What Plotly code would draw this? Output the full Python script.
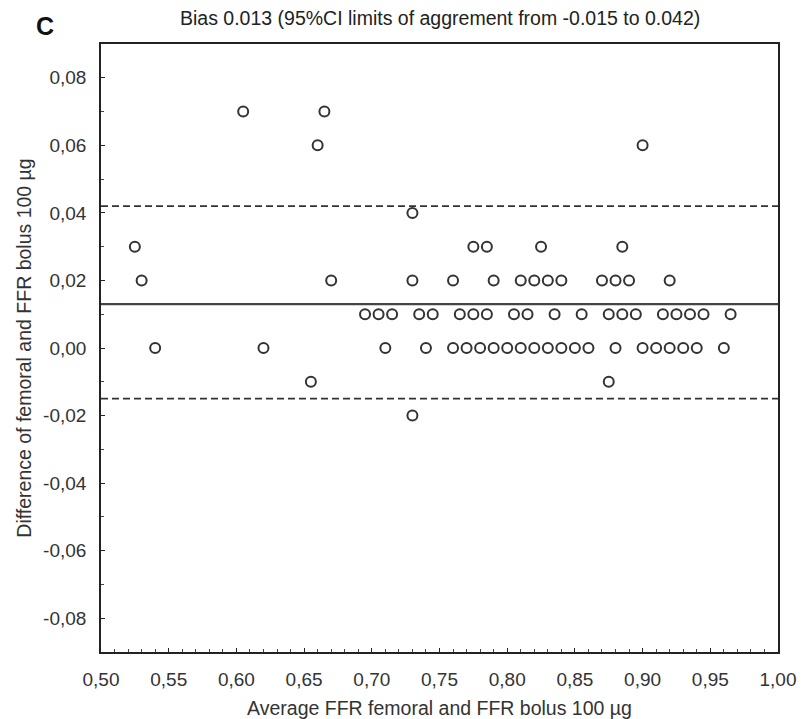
import plotly.graph_objects as go

# Average FFR (femoral / bolus 100 µg) and their difference, per lesion
avg_ffr = [
    0.525, 0.53, 0.54, 0.605, 0.62, 0.655, 0.66, 0.665, 0.67,
    0.73, 0.73, 0.73, 0.90, 0.875,
    # difference 0.03
    0.775, 0.785, 0.825, 0.885,
    # difference 0.02
    0.76, 0.79, 0.81, 0.82, 0.83, 0.84, 0.87, 0.88, 0.89, 0.92,
    # difference 0.01
    0.695, 0.705, 0.715, 0.735, 0.745, 0.765, 0.775, 0.785, 0.805, 0.815,
    0.835, 0.855, 0.875, 0.885, 0.895, 0.915, 0.925, 0.935, 0.945, 0.965,
    # difference 0.00
    0.71, 0.74, 0.76, 0.77, 0.78, 0.79, 0.80, 0.81, 0.82, 0.83, 0.84,
    0.85, 0.86, 0.88, 0.90, 0.91, 0.92, 0.93, 0.94, 0.96,
]
diff_ffr = [
    0.03, 0.02, 0.00, 0.07, 0.00, -0.01, 0.06, 0.07, 0.02,
    0.04, 0.02, -0.02, 0.06, -0.01,
    0.03, 0.03, 0.03, 0.03,
    0.02, 0.02, 0.02, 0.02, 0.02, 0.02, 0.02, 0.02, 0.02, 0.02,
    0.01, 0.01, 0.01, 0.01, 0.01, 0.01, 0.01, 0.01, 0.01, 0.01,
    0.01, 0.01, 0.01, 0.01, 0.01, 0.01, 0.01, 0.01, 0.01, 0.01,
    0.00, 0.00, 0.00, 0.00, 0.00, 0.00, 0.00, 0.00, 0.00, 0.00, 0.00,
    0.00, 0.00, 0.00, 0.00, 0.00, 0.00, 0.00, 0.00, 0.00,
]

bias = 0.013
loa_low = -0.015
loa_high = 0.042

x_range = [0.50, 1.00]
y_range = [-0.09, 0.09]

x_tickvals = [0.50, 0.55, 0.60, 0.65, 0.70, 0.75, 0.80, 0.85, 0.90, 0.95, 1.00]
x_ticktext = ["0,50", "0,55", "0,60", "0,65", "0,70", "0,75",
              "0,80", "0,85", "0,90", "0,95", "1,00"]
y_tickvals = [-0.08, -0.06, -0.04, -0.02, 0.00, 0.02, 0.04, 0.06, 0.08]
y_ticktext = ["-0,08", "-0,06", "-0,04", "-0,02", "0,00",
              "0,02", "0,04", "0,06", "0,08"]

fig = go.Figure()

fig.add_trace(go.Scatter(
    x=avg_ffr, y=diff_ffr, mode="markers",
    marker=dict(symbol="circle-open", size=10, color="#333333",
                line=dict(width=2, color="#333333")),
    showlegend=False, hoverinfo="x+y",
))

# Bias and limits of agreement
fig.add_hline(y=bias, line=dict(color="#444444", width=2.2))
for lim in (loa_low, loa_high):
    fig.add_hline(y=lim, line=dict(color="#333333", width=1.8, dash="7px,4px"))

font_family = "Liberation Sans, Arial, sans-serif"
text_color = "#333333"
tick_size = 19
title_size = 19.5

axis_common = dict(
    showgrid=False, zeroline=False, showline=True, mirror=True,
    linecolor="#222222", linewidth=1.6, automargin=False,
    ticks="inside", ticklen=4, tickwidth=1.3, tickcolor="#222222",
    tickfont=dict(family=font_family, size=tick_size, color=text_color),
    minor=dict(ticks="inside", ticklen=3, tickwidth=1.1, tickcolor="#444444",
               tickmode="linear", dtick=0.01),
)

fig.update_xaxes(
    range=x_range, tickmode="array", tickvals=x_tickvals, ticktext=x_ticktext,
    title=dict(text="Average FFR femoral and FFR bolus 100 µg",
               font=dict(family=font_family, size=title_size, color=text_color), standoff=14),
    ticklabelstandoff=9,
    **axis_common,
)
fig.update_yaxes(
    range=y_range, tickmode="array", tickvals=y_tickvals, ticktext=y_ticktext,
    title=dict(text="Difference of femoral and FFR bolus 100 µg",
               font=dict(family=font_family, size=title_size, color=text_color), standoff=6),
    ticklabelstandoff=9,
    **axis_common,
)

fig.update_layout(
    width=801, height=719,
    margin=dict(l=101, r=23, t=44, b=67),
    paper_bgcolor="white", plot_bgcolor="white",
    font=dict(family=font_family, color=text_color),
    annotations=[
        dict(text="Bias 0.013 (95%CI limits of aggrement from -0.015 to 0.042)",
             xref="paper", yref="paper", x=0.5, y=1, yshift=26,
             xanchor="center", yanchor="middle", showarrow=False,
             font=dict(family=font_family, size=title_size, color="#222222")),
        dict(text="<b>C</b>", xref="paper", yref="paper", x=0, y=1,
             xshift=-56, yshift=18, xanchor="center", yanchor="middle",
             showarrow=False,
             font=dict(family=font_family, size=25, color="#111111")),
    ],
)

fig.write_html("out.html")
